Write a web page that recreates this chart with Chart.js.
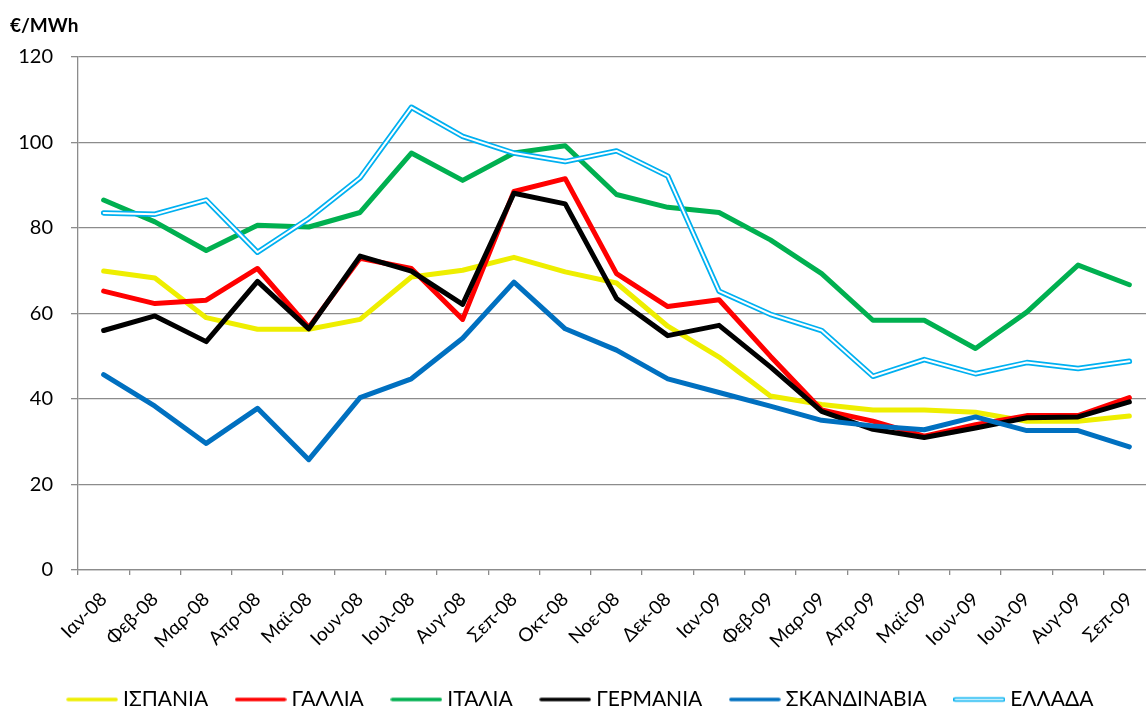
<!DOCTYPE html>
<html>
<head>
<meta charset="utf-8">
<script src="https://cdn.jsdelivr.net/npm/chart.js@4.4.1/dist/chart.umd.min.js"></script>
<style>
  html, body { margin: 0; padding: 0; background: #ffffff; overflow: hidden; }
  #wrap { width: 1146px; height: 709px; overflow: hidden; position: relative; }
</style>
</head>
<body>
<div id="wrap"><canvas id="c" width="1175" height="723"></canvas></div>
<script>
const months = ['Ιαν-08','Φεβ-08','Μαρ-08','Απρ-08','Μαϊ-08','Ιουν-08','Ιουλ-08','Αυγ-08','Σεπ-08','Οκτ-08','Νοε-08','Δεκ-08','Ιαν-09','Φεβ-09','Μαρ-09','Απρ-09','Μαϊ-09','Ιουν-09','Ιουλ-09','Αυγ-09','Σεπ-09'];
const spain       = [69.9,68.3,59.0,56.3,56.3,58.6,68.5,70.1,73.1,69.7,67.1,57.0,49.8,40.7,38.7,37.4,37.4,36.9,34.8,34.8,36.0];
const france      = [65.2,62.3,63.1,70.5,56.7,72.9,70.5,58.6,88.5,91.5,69.3,61.6,63.2,50.0,37.4,34.8,31.3,34.0,36.1,36.1,40.3];
const italy       = [86.5,81.4,74.7,80.6,80.2,83.6,97.5,91.1,97.5,99.2,87.8,84.8,83.6,77.2,69.3,58.4,58.4,51.8,60.3,71.3,66.7];
const germany     = [56.0,59.4,53.4,67.5,56.4,73.4,69.9,62.1,88.1,85.6,63.5,54.8,57.2,47.5,37.1,32.9,31.0,33.2,35.6,35.8,39.3];
const scandinavia = [45.7,38.3,29.6,37.8,25.8,40.3,44.7,54.2,67.3,56.4,51.4,44.7,41.5,38.3,35.0,33.7,32.8,35.8,32.6,32.6,28.8];
const greece      = [83.5,83.2,86.5,74.3,82.2,91.7,108.2,101.4,97.5,95.5,98.0,92.1,65.2,59.8,56.0,45.3,49.2,45.9,48.5,47.1,48.8];
const seriesNames = ['ΙΣΠΑΝΙΑ','ΓΑΛΛΙΑ','ΙΤΑΛΙΑ','ΓΕΡΜΑΝΙΑ','ΣΚΑΝΔΙΝΑΒΙΑ','ΕΛΛΑΔΑ'];
const yTitle = '€/MWh';

const colors = ['#EEEE00','#FF0000','#00B050','#000000','#0070C0','#00B0F0'];
const FONT = "Lato, 'Open Sans', 'DejaVu Sans', sans-serif";

function swatch(color, dbl) {
  const c = document.createElement('canvas');
  c.width = 52; c.height = 8;
  const g = c.getContext('2d');
  g.lineCap = 'round';
  g.strokeStyle = color; g.lineWidth = dbl ? 4.5 : 3.5;
  g.beginPath(); g.moveTo(2, 4); g.lineTo(50, 4); g.stroke();
  if (dbl) {
    g.strokeStyle = '#ffffff'; g.lineWidth = 1.5;
    g.beginPath(); g.moveTo(2, 4); g.lineTo(50, 4); g.stroke();
  }
  return c;
}
const swatches = colors.map((c, i) => swatch(c, i === 5));

function lineDs(label, data, color, width, order) {
  return {
    label, data, borderColor: color, backgroundColor: color,
    borderWidth: width, pointRadius: 0, pointHoverRadius: 0,
    borderCapStyle: 'round', borderJoinStyle: 'round',
    tension: 0, fill: false, order
  };
}

const datasets = [
  lineDs(seriesNames[0], spain, colors[0], 5, 7),
  lineDs(seriesNames[1], france, colors[1], 5, 6),
  lineDs(seriesNames[2], italy, colors[2], 5, 5),
  lineDs(seriesNames[3], germany, colors[3], 5, 4),
  lineDs(seriesNames[4], scandinavia, colors[4], 5, 3),
  lineDs(seriesNames[5], greece, colors[5], 5.5, 2),
  lineDs('', greece, '#ffffff', 2, 1)
];

const gridColor = '#8c8c8c';

new Chart(document.getElementById('c'), {
  type: 'line',
  data: { labels: months, datasets },
  options: {
    responsive: false,
    animation: false,
    devicePixelRatio: 1,
    layout: { padding: { left: 10, right: 20, top: 0, bottom: 3 } },
    plugins: {
      tooltip: { enabled: false },
      title: {
        display: true, text: yTitle, align: 'start', color: '#000000',
        font: { family: FONT, size: 19, weight: 'bold', lineHeight: 1.2 },
        padding: { top: 14, bottom: 20 }
      },
      legend: {
        position: 'bottom',
        padding: 10,
        labels: {
          usePointStyle: true,
          pointStyleWidth: 41,
          padding: 32,
          color: '#000000',
          font: { family: FONT, size: 21 },
          generateLabels: () => seriesNames.map((name, i) => ({
            text: name, fillStyle: colors[i], strokeStyle: colors[i], lineWidth: 0,
            pointStyle: swatches[i], hidden: false, datasetIndex: i, fontColor: '#000000'
          }))
        }
      }
    },
    scales: {
      x: {
        type: 'category',
        offset: true,
        grid: { display: true, drawOnChartArea: false, drawTicks: true, tickLength: 5, color: gridColor, lineWidth: 1.3, offset: true },
        border: { display: true, color: gridColor, width: 1.3 },
        ticks: {
          autoSkip: false, maxRotation: 45, minRotation: 45, padding: 13,
          color: '#000000', font: { family: FONT, size: 19 }
        },
        afterFit: s => { s.height = 87; }
      },
      y: {
        min: 0, max: 120,
        grid: { color: gridColor, lineWidth: 1.3, drawTicks: true, tickLength: 7 },
        border: { display: true, color: gridColor, width: 1.3 },
        ticks: { stepSize: 20, padding: 18, color: '#000000', font: { family: FONT, size: 20 } },
        afterFit: s => { s.width = 68; }
      }
    }
  }
});
</script>
</body>
</html>
